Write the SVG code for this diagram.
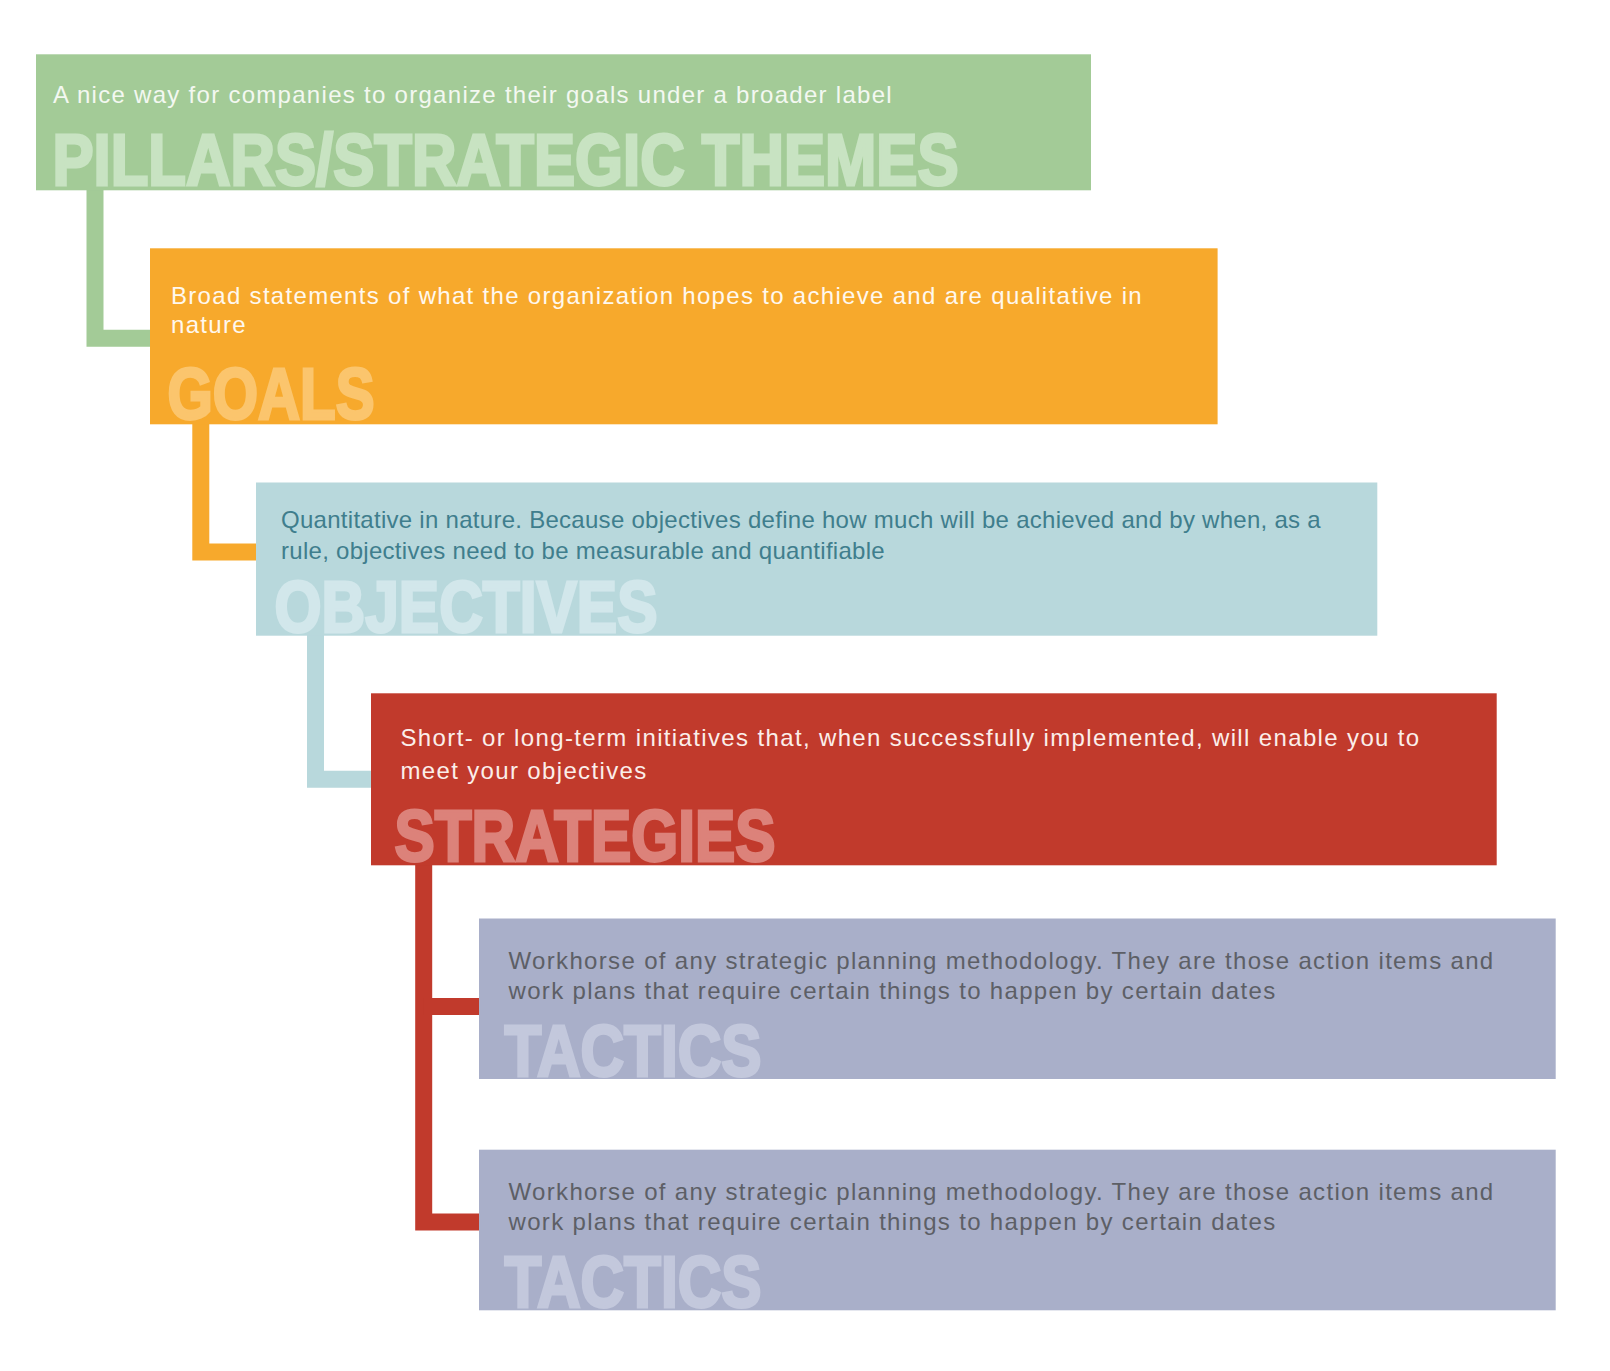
<svg xmlns="http://www.w3.org/2000/svg" width="1610" height="1371" viewBox="0 0 1610 1371">
<style>
.desc{font-family:"Liberation Sans",Arial,Helvetica,sans-serif;font-size:24px;letter-spacing:1.3px}
.title{font-family:"Liberation Sans",Arial,Helvetica,sans-serif;font-size:73px;font-weight:bold;stroke-width:3;stroke-linejoin:miter}
.conn{fill:none;stroke-width:17;stroke-linejoin:miter;stroke-linecap:butt}
</style>
<rect width="1610" height="1371" fill="#ffffff"/>
<g id="connectors">
<path class="conn" stroke="#a3cb97" d="M95 190 V338.3 H152"/>
<path class="conn" stroke="#f7a92c" d="M200.8 424 V552 H258"/>
<path class="conn" stroke="#b8d8dc" d="M315.5 635 V779.2 H372"/>
<path class="conn" stroke="#c13a2c" d="M423.7 865 V1222 H480"/>
<path class="conn" stroke="#c13a2c" d="M423.7 1006.4 H480"/>
</g>
<g id="pillars">
<rect x="36" y="54.3" width="1055" height="136" fill="#a3cb97"/>
<text class="desc" x="53" y="103" fill="#f3f8f1" textLength="840" lengthAdjust="spacing">A nice way for companies to organize their goals under a broader label</text>
<text class="title" x="52.5" y="184.5" fill="#c8e3c2" stroke="#c8e3c2" textLength="906" lengthAdjust="spacingAndGlyphs">PILLARS/STRATEGIC THEMES</text>
</g>
<g id="goals">
<rect x="150" y="248.3" width="1067.6" height="176" fill="#f7a92c"/>
<text class="desc" x="171" y="303.5" fill="#fff8ee" textLength="972" lengthAdjust="spacing">Broad statements of what the organization hopes to achieve and are qualitative in</text>
<text class="desc" x="171" y="333.3" fill="#fff8ee">nature</text>
<text class="title" x="167.5" y="419" fill="#fbc56d" stroke="#fbc56d" textLength="207" lengthAdjust="spacingAndGlyphs">GOALS</text>
</g>
<g id="objectives">
<rect x="256" y="482.5" width="1121.3" height="153.2" fill="#b8d8dc"/>
<text class="desc" x="281" y="528" fill="#3f7e8d" textLength="1041" lengthAdjust="spacing">Quantitative in nature. Because objectives define how much will be achieved and by when, as a</text>
<text class="desc" x="281" y="559" fill="#3f7e8d" textLength="605" lengthAdjust="spacing">rule, objectives need to be measurable and quantifiable</text>
<text class="title" x="274.5" y="632" fill="#d2e7eb" stroke="#d2e7eb" textLength="383" lengthAdjust="spacingAndGlyphs">OBJECTIVES</text>
</g>
<g id="strategies">
<rect x="371" y="693.3" width="1125.7" height="172" fill="#c13a2c"/>
<text class="desc" x="400.5" y="745.5" fill="#fbeeea" textLength="1020" lengthAdjust="spacing">Short- or long-term initiatives that, when successfully implemented, will enable you to</text>
<text class="desc" x="400.5" y="779" fill="#fbeeea" textLength="247" lengthAdjust="spacing">meet your objectives</text>
<text class="title" x="394.5" y="860.7" fill="#dc827a" stroke="#dc827a" textLength="381" lengthAdjust="spacingAndGlyphs">STRATEGIES</text>
</g>
<g id="tactics-1">
<rect x="479" y="918.5" width="1076.7" height="160.5" fill="#a9afc9"/>
<text class="desc" x="508.5" y="968.5" fill="#5d5f66" textLength="986" lengthAdjust="spacing">Workhorse of any strategic planning methodology. They are those action items and</text>
<text class="desc" x="508.5" y="998.5" fill="#5d5f66" textLength="768" lengthAdjust="spacing">work plans that require certain things to happen by certain dates</text>
<text class="title" x="504.5" y="1075.7" fill="#c3c8dc" stroke="#c3c8dc" textLength="257" lengthAdjust="spacingAndGlyphs">TACTICS</text>
</g>
<g id="tactics-2">
<rect x="479" y="1149.7" width="1076.7" height="160.6" fill="#a9afc9"/>
<text class="desc" x="508.5" y="1199.5" fill="#5d5f66" textLength="986" lengthAdjust="spacing">Workhorse of any strategic planning methodology. They are those action items and</text>
<text class="desc" x="508.5" y="1229.5" fill="#5d5f66" textLength="768" lengthAdjust="spacing">work plans that require certain things to happen by certain dates</text>
<text class="title" x="504.5" y="1307" fill="#c3c8dc" stroke="#c3c8dc" textLength="257" lengthAdjust="spacingAndGlyphs">TACTICS</text>
</g>
</svg>
